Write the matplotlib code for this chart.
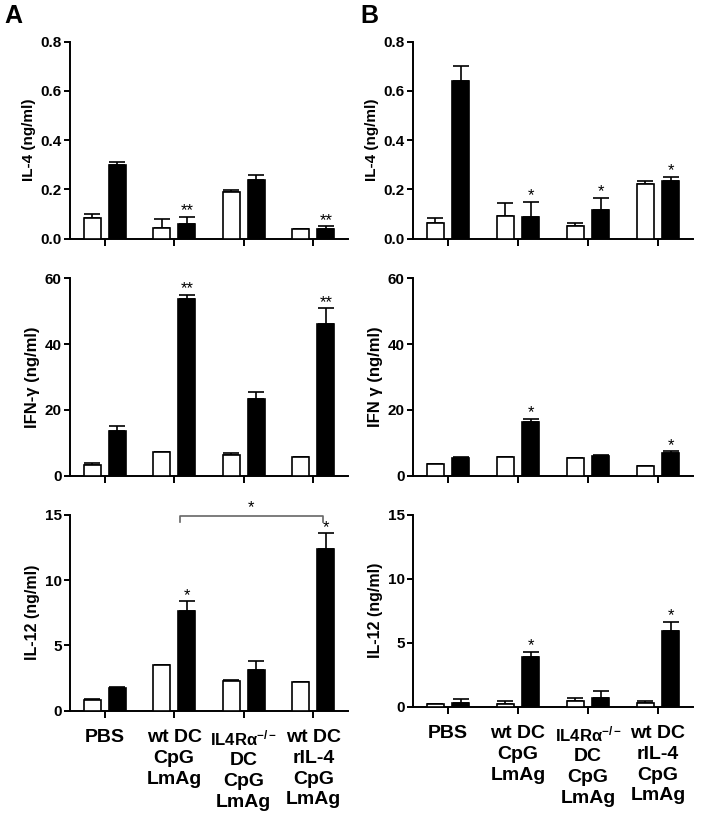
import matplotlib
matplotlib.use("Agg")
import matplotlib.pyplot as plt
import numpy as np

plt.rcParams['font.family'] = ['Liberation Sans', 'DejaVu Sans']
plt.rcParams['font.weight'] = 'bold'
plt.rcParams['mathtext.fontset'] = 'custom'
plt.rcParams['mathtext.rm'] = 'Liberation Sans:bold'
plt.rcParams['mathtext.it'] = 'Liberation Sans:bold'
plt.rcParams['mathtext.bf'] = 'Liberation Sans:bold'

# Data
groups = ["PBS", "wt DC\nCpG\nLmAg", "IL4R\u03b1$^{-/-}$\nDC\nCpG\nLmAg", "wt DC\nrIL-4\nCpG\nLmAg"]

a_il4_open = [0.083, 0.042, 0.19, 0.039]
a_il4_open_err = [0.019, 0.036, 0.006, 0.0]
a_il4_black = [0.30, 0.061, 0.238, 0.039]
a_il4_black_err = [0.01, 0.027, 0.02, 0.011]
a_il4_stars = ["", "**", "", "**"]

a_ifn_open = [3.2, 7.1, 6.3, 5.7]
a_ifn_open_err = [0.7, 0.2, 0.6, 0.0]
a_ifn_black = [13.6, 53.7, 23.3, 46.1]
a_ifn_black_err = [1.6, 1.3, 2.1, 4.8]
a_ifn_stars = ["", "**", "", "**"]

a_il12_open = [0.79, 3.5, 2.27, 2.22]
a_il12_open_err = [0.08, 0.0, 0.05, 0.0]
a_il12_black = [1.73, 7.6, 3.14, 12.4]
a_il12_black_err = [0.11, 0.77, 0.64, 1.17]
a_il12_stars = ["", "*", "", "*"]

b_il4_open = [0.0625, 0.092, 0.053, 0.223]
b_il4_open_err = [0.022, 0.055, 0.012, 0.012]
b_il4_black = [0.642, 0.09, 0.118, 0.233]
b_il4_black_err = [0.058, 0.06, 0.048, 0.017]
b_il4_stars = ["", "*", "*", "*"]

b_ifn_open = [3.6, 5.6, 5.4, 3.0]
b_ifn_open_err = [0.1, 0.2, 0.1, 0.1]
b_ifn_black = [5.5, 16.2, 5.9, 6.9]
b_ifn_black_err = [0.1, 1.1, 0.5, 0.5]
b_ifn_stars = ["", "*", "", "*"]

b_il12_open = [0.18, 0.23, 0.42, 0.29]
b_il12_open_err = [0.03, 0.19, 0.28, 0.13]
b_il12_black = [0.26, 3.88, 0.68, 5.89]
b_il12_black_err = [0.34, 0.39, 0.57, 0.71]
b_il12_stars = ["", "*", "", "*"]

W, H = 705, 822
fig = plt.figure(figsize=(W / 100, H / 100), dpi=100)


def make_ax(left, right, top, bottom):
    return fig.add_axes([left / W, 1 - bottom / H, (right - left) / W, (bottom - top) / H])


def panel(ax, opn, opn_err, blk, blk_err, stars, ylabel, lsize, ymax, yticks, fmt, show_x):
    x = np.arange(len(groups))
    off, w = 0.18, 0.25
    ax.bar(x - off, opn, w, color='white', edgecolor='black', linewidth=1.2, zorder=3)
    ax.bar(x + off, blk, w, color='black', edgecolor='black', linewidth=1.2, zorder=3)
    ax.errorbar(x - off, opn, yerr=[np.zeros(4), opn_err], fmt='none', ecolor='black',
                elinewidth=1.2, capsize=6, capthick=1.2, zorder=2)
    ax.errorbar(x + off, blk, yerr=[np.zeros(4), blk_err], fmt='none', ecolor='black',
                elinewidth=1.2, capsize=6, capthick=1.2, zorder=2)
    for i, s in enumerate(stars):
        if s:
            ax.annotate(s, (x[i] + off, blk[i] + blk_err[i]), xytext=(0, -1),
                        textcoords='offset points', ha='center', va='bottom',
                        fontsize=12, fontweight='normal', clip_on=False)
    ax.set_xlim(-0.5, 3.5)
    ax.set_ylim(0, ymax)
    ax.set_yticks(yticks)
    ax.set_yticklabels([fmt.format(t) for t in yticks], fontsize=11, fontweight='bold')
    ax.set_xticks(x)
    if show_x:
        labels = list(groups)
        first, rest = labels[2].split("\n", 1)
        labels[2] = ""
        ax.set_xticklabels(labels, fontsize=14, fontweight='bold', linespacing=1.3)
        # knockout label: first line set a little smaller, as in the figure
        ax.annotate(first, (x[2], 0), xycoords=('data', 'axes fraction'),
                    xytext=(0, -13), textcoords='offset points', ha='center', va='top',
                    fontsize=12, fontweight='bold')
        ax.annotate(rest, (x[2], 0), xycoords=('data', 'axes fraction'),
                    xytext=(0, -30), textcoords='offset points', ha='center', va='top',
                    fontsize=14, fontweight='bold', linespacing=1.3)
    else:
        ax.set_xticklabels([])
    ax.set_ylabel(ylabel, fontsize=lsize, fontweight='bold', labelpad=3)
    for sp in ['top', 'right']:
        ax.spines[sp].set_visible(False)
    for sp in ['left', 'bottom']:
        ax.spines[sp].set_linewidth(1.4)
    ax.tick_params(axis='y', direction='out', length=4, width=1.4, pad=2)
    ax.tick_params(axis='x', direction='out', length=5, width=1.4, pad=8)


il4_ticks = [0.0, 0.2, 0.4, 0.6, 0.8]
ifn_ticks = [0, 20, 40, 60]
il12_ticks = [0, 5, 10, 15]

ax = make_ax(70, 348, 41.7, 238.7)
panel(ax, a_il4_open, a_il4_open_err, a_il4_black, a_il4_black_err, a_il4_stars,
      "IL-4 (ng/ml)", 11, 0.8, il4_ticks, "{:.1f}", False)
ax = make_ax(70, 348, 278.3, 475.7)
panel(ax, a_ifn_open, a_ifn_open_err, a_ifn_black, a_ifn_black_err, a_ifn_stars,
      "IFN-\u03b3 (ng/ml)", 12, 60, ifn_ticks, "{:d}", False)
ax = make_ax(70, 348, 514.7, 710.7)
panel(ax, a_il12_open, a_il12_open_err, a_il12_black, a_il12_black_err, a_il12_stars,
      "IL-12 (ng/ml)", 11.5, 15, il12_ticks, "{:d}", True)
# comparison bracket
bx0, bx1, by = 1 + 0.08, 3 + 0.14, 14.9
ax.plot([bx0, bx0, bx1, bx1], [by - 0.45, by, by, by - 0.45], color='#666666',
        linewidth=1.2, clip_on=False)
ax.text((bx0 + bx1) / 2, by + 0.05, "*", ha='center', va='bottom', fontsize=12,
        fontweight='normal')

ax = make_ax(413, 693, 41.7, 238.7)
panel(ax, b_il4_open, b_il4_open_err, b_il4_black, b_il4_black_err, b_il4_stars,
      "IL-4 (ng/ml)", 11, 0.8, il4_ticks, "{:.1f}", False)
ax = make_ax(413, 693, 278.3, 475.7)
panel(ax, b_ifn_open, b_ifn_open_err, b_ifn_black, b_ifn_black_err, b_ifn_stars,
      "IFN \u03b3 (ng/ml)", 12, 60, ifn_ticks, "{:d}", False)
ax = make_ax(413, 693, 514.7, 706.7)
panel(ax, b_il12_open, b_il12_open_err, b_il12_black, b_il12_black_err, b_il12_stars,
      "IL-12 (ng/ml)", 11.5, 15, il12_ticks, "{:d}", True)

fig.text(4 / W, 1 - 23 / H, "A", fontsize=18, fontweight='bold', ha='left', va='baseline')
fig.text(360 / W, 1 - 23 / H, "B", fontsize=18, fontweight='bold', ha='left', va='baseline')

fig.savefig("out.png", dpi=100)
